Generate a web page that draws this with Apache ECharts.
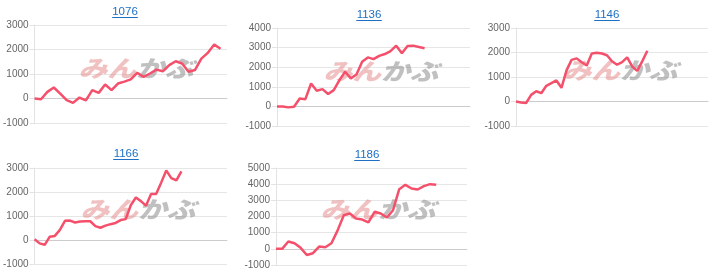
<!DOCTYPE html>
<html>
<head>
<meta charset="utf-8">
<script src="https://cdn.jsdelivr.net/npm/echarts@6/dist/echarts.min.js"></script>
<style>
html,body{margin:0;padding:0;background:#fff;}
#c{width:720px;height:278px;}
</style>
</head>
<body>
<div id="c"></div>
<script>
// ---- data ----
var titles = ['1076', '1136', '1146', '1166', '1186'];
var slotCounts = [31, 35, 39, 39, 32];   // x-axis slots per panel
var yMax = [3000, 4000, 3000, 3000, 5000];
var yMin = [-1000, -1000, -1000, -1000, -1000];

var values1076 = [0, -30, 270, 450, 200, -70, -180, 40, -80, 340, 230, 570, 340, 610, 690, 780, 1050, 880, 1020, 1180, 1110, 1360, 1520, 1430, 1090, 1160, 1630, 1860, 2200, 2030];
var values1136 = [0, 0, -50, -20, 400, 370, 1170, 800, 880, 630, 830, 1340, 1770, 1430, 1630, 2280, 2500, 2410, 2580, 2670, 2820, 3100, 2710, 3080, 3100, 3030, 2970];
var values1146 = [0, -40, -60, 270, 420, 340, 640, 750, 860, 560, 1270, 1700, 1760, 1600, 1470, 1960, 1990, 1960, 1890, 1640, 1500, 1610, 1800, 1430, 1250, 1650, 2070];
var values1166 = [30, -140, -200, 140, 170, 420, 800, 810, 730, 770, 780, 780, 580, 510, 600, 660, 710, 830, 870, 1450, 1770, 1620, 1430, 1920, 1920, 2390, 2900, 2580, 2480, 2860];
var values1186 = [0, 0, 450, 350, 60, -380, -270, 140, 100, 350, 1140, 2080, 2190, 1870, 1810, 1640, 2290, 2190, 1940, 2390, 3690, 3960, 3730, 3670, 3880, 4000, 3960];
var seriesValues = [values1076, values1136, values1146, values1166, values1186];

// ---- layout (pixels) ----
var grids = [
  {left: 33, top: 25, width: 194, height: 98},
  {left: 277, top: 28, width: 193, height: 98},
  {left: 516, top: 28, width: 192, height: 98},
  {left: 34, top: 168, width: 193, height: 96},
  {left: 276, top: 168, width: 191, height: 97}
];
var titlePos = [[125, 12], [369, 15], [607, 15], [126, 154], [367, 155]];
var markPos = [[136, 68], [381, 71], [620, 70], [138, 209], [378, 209]];

var chart = echarts.init(document.getElementById('c'), null, {renderer: 'canvas'});
var xAxes = [], yAxes = [], series = [], graphics = [];
for (var i = 0; i < 5; i++) {
  var cats = [];
  for (var k = 1; k <= slotCounts[i]; k++) cats.push(String(k));
  xAxes.push({
    type: 'category', gridIndex: i, data: cats, boundaryGap: false,
    axisLabel: {show: false}, axisTick: {show: false},
    axisLine: {show: true, onZero: true, lineStyle: {color: '#cccccc', width: 1}},
    splitLine: {show: false}
  });
  yAxes.push({
    type: 'value', gridIndex: i, min: yMin[i], max: yMax[i], interval: 1000,
    axisLabel: {color: '#666', fontSize: 10, fontFamily: 'Liberation Sans, Arial, sans-serif', margin: 6,
      formatter: function (v) { return String(v); }},
    axisLine: {show: true, lineStyle: {color: '#e3e3e3'}},
    axisTick: {show: true, length: 5, lineStyle: {color: '#e3e3e3'}},
    splitLine: {show: true, lineStyle: {color: '#e6e6e6', width: 1}}
  });
  series.push({
    type: 'line', xAxisIndex: i, yAxisIndex: i, data: seriesValues[i],
    showSymbol: false, symbol: 'none', smooth: false,
    lineStyle: {color: '#f4506c', width: 2.5}, z: 5
  });
  // watermark
  graphics.push({
    type: 'text', x: markPos[i][0], y: markPos[i][1], z: 1, silent: true,
    scaleX: 1.25, scaleY: 1,
    style: {
      text: '{a|みん}{b|かぶ}', align: 'center', verticalAlign: 'middle',
      rich: {
        a: {fontSize: 23, fontWeight: 900, fontStyle: 'italic', fill: 'rgba(228,130,130,0.5)', fontFamily: 'Noto Sans CJK JP'},
        b: {fontSize: 23, fontWeight: 900, fontStyle: 'italic', fill: 'rgba(140,140,140,0.55)', fontFamily: 'Noto Sans CJK JP'}
      }
    }
  });
  // title
  graphics.push({
    type: 'text', x: titlePos[i][0], y: titlePos[i][1], z: 10,
    style: {
      text: titles[i], align: 'center', verticalAlign: 'middle',
      fontSize: 11.5, fontFamily: 'Liberation Sans, Arial, sans-serif', fill: '#1f6fc4'
    }
  });
  var tw = titles[i].length * 0.556 * 11.5;
  graphics.push({
    type: 'line', z: 10,
    shape: {x1: titlePos[i][0] - tw / 2, y1: titlePos[i][1] + 5.5, x2: titlePos[i][0] + tw / 2, y2: titlePos[i][1] + 5.5},
    style: {stroke: '#1f6fc4', lineWidth: 1}
  });
}
chart.setOption({
  animation: false,
  backgroundColor: '#ffffff',
  grid: grids,
  xAxis: xAxes,
  yAxis: yAxes,
  series: series,
  graphic: graphics
});
</script>
</body>
</html>
